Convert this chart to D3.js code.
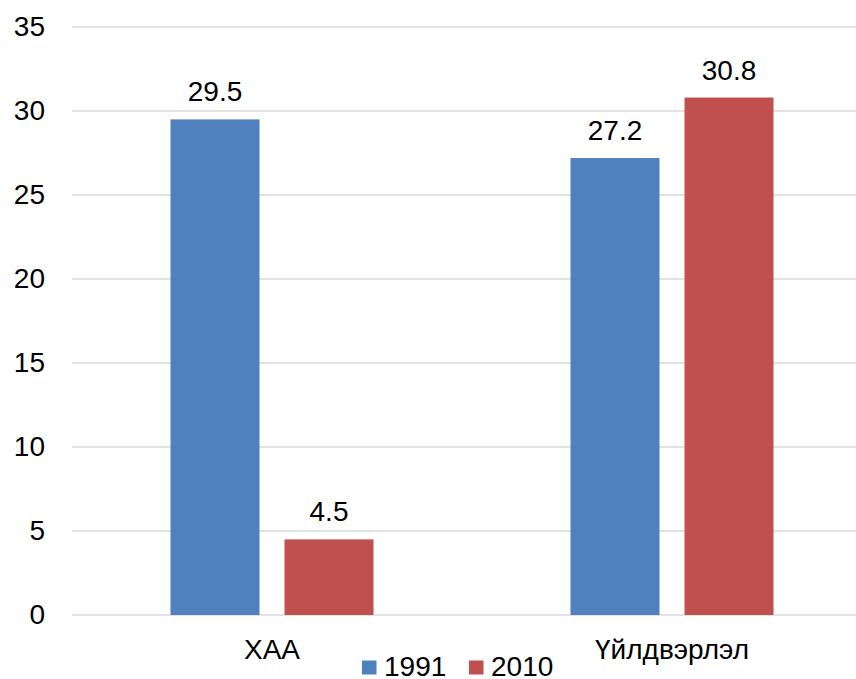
<!DOCTYPE html>
<html>
<head>
<meta charset="utf-8">
<script src="https://cdn.jsdelivr.net/npm/d3@7/dist/d3.min.js"></script>
<style>
  html, body { margin: 0; padding: 0; background: #fff; }
  svg { display: block; font-family: "Liberation Sans", Arial, sans-serif; }
</style>
</head>
<body>
<svg id="chart" width="856" height="679"></svg>
<script>
const categories = ["ХАА", "Үйлдвэрлэл"];
const seriesNames = ["1991", "2010"];
const values1991 = [29.5, 27.2];
const values2010 = [4.5, 30.8];
const yTicks = [0, 5, 10, 15, 20, 25, 30, 35];
const colors = ["#4F81BD", "#C0504D"];

const seriesValues = [values1991, values2010];
const data = categories.map((c, i) => ({
  category: c,
  values: seriesNames.map((s, j) => ({ series: s, value: seriesValues[j][i], color: colors[j] }))
}));

const svg = d3.select("#chart");
const plotLeft = 72, plotRight = 872, plotTop = 27, plotBottom = 615;

const x = d3.scaleBand().domain(categories).range([plotLeft, plotRight]).paddingInner(0).paddingOuter(0);
const xInner = d3.scaleBand().domain(seriesNames).range([0, x.bandwidth()]).paddingInner(0.2193).paddingOuter(0.864);
const y = d3.scaleLinear().domain([0, 35]).range([plotBottom, plotTop]);

// gridlines
svg.append("g")
  .selectAll("line")
  .data(yTicks)
  .join("line")
  .attr("x1", plotLeft)
  .attr("x2", 856)
  .attr("y1", d => y(d))
  .attr("y2", d => y(d))
  .attr("stroke", "#d9d9d9")
  .attr("stroke-width", 1.5);

// y axis labels
const yAxis = d3.axisLeft(y).tickValues(yTicks).tickSize(0).tickPadding(0).tickFormat(d3.format("d"));
const gy = svg.append("g").attr("transform", `translate(45,0)`).call(yAxis);
gy.select(".domain").remove();
gy.selectAll("text")
  .attr("font-size", 28)
  .attr("font-family", "Liberation Sans, Arial, sans-serif")
  .attr("fill", "#000")
  .attr("dy", "0.3em");

// bars
const groups = svg.append("g")
  .selectAll("g")
  .data(data)
  .join("g")
  .attr("transform", d => `translate(${x(d.category)},0)`);

groups.selectAll("rect")
  .data(d => d.values)
  .join("rect")
  .attr("x", d => xInner(d.series))
  .attr("width", xInner.bandwidth())
  .attr("y", d => y(d.value))
  .attr("height", d => y(0) - y(d.value))
  .attr("fill", d => d.color);

groups.selectAll("text")
  .data(d => d.values)
  .join("text")
  .attr("x", d => xInner(d.series) + xInner.bandwidth() / 2)
  .attr("y", d => y(d.value) - 18)
  .attr("text-anchor", "middle")
  .attr("font-size", 28)
  .attr("fill", "#000")
  .text(d => d3.format(".1f")(d.value));

// x axis labels
const xAxis = d3.axisBottom(x).tickSize(0).tickPadding(0);
const gx = svg.append("g").attr("transform", `translate(0,${plotBottom})`).call(xAxis);
gx.select(".domain").remove();
gx.selectAll("text")
  .attr("font-size", 28)
  .attr("font-family", "Liberation Sans, Arial, sans-serif")
  .attr("fill", "#000")
  .attr("dy", null)
  .attr("y", 44);

// legend
const legendItems = [
  { name: seriesNames[0], color: colors[0], x: 362 },
  { name: seriesNames[1], color: colors[1], x: 469 }
];
const lg = svg.append("g");
legendItems.forEach(it => {
  lg.append("rect")
    .attr("x", it.x).attr("y", 660.5)
    .attr("width", 14.5).attr("height", 14)
    .attr("fill", it.color);
  lg.append("text")
    .attr("x", it.x + 22).attr("y", 676)
    .attr("font-size", 28)
    .attr("fill", "#000")
    .text(it.name);
});
</script>
</body>
</html>
